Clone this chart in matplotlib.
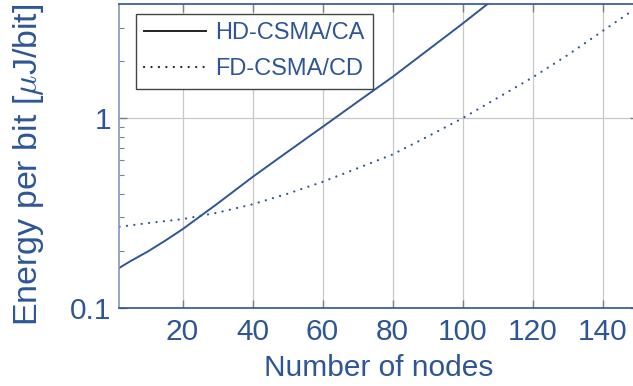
import matplotlib
matplotlib.use("Agg")
import matplotlib.pyplot as plt
from matplotlib.ticker import FixedLocator, NullFormatter

plt.rcParams["font.family"] = ["Liberation Sans", "DejaVu Sans"]
plt.rcParams["mathtext.fontset"] = "cm"

blue = "#2E5596"
grid_gray = "#c8c8c8"
tick_gray = "#808080"

# data
hd_nodes = [2, 5, 10, 15, 20, 30, 40, 50, 60, 70, 80, 90, 100, 110]
hd_energy = [0.163, 0.176, 0.198, 0.226, 0.26, 0.355, 0.49, 0.665, 0.90, 1.22, 1.65, 2.28, 3.15, 4.4]

fd_nodes = [2, 10, 20, 30, 40, 50, 60, 70, 80, 90, 100, 110, 120, 130, 140, 150]
fd_energy = [0.268, 0.28, 0.294, 0.318, 0.352, 0.40, 0.462, 0.545, 0.644, 0.80, 1.0, 1.28, 1.64, 2.15, 2.88, 3.85]

x_ticks = [20, 40, 60, 80, 100, 120, 140]

fig = plt.figure(figsize=(6.33, 3.86), dpi=100)
ax = fig.add_axes([119.5 / 633, 78 / 386, (637.5 - 119.5) / 633, 304 / 386])

ax.plot(hd_nodes, hd_energy, color=blue, lw=1.4, label="HD-CSMA/CA")
ax.plot(fd_nodes, fd_energy, color=blue, lw=1.6, dashes=(0.05, 3.3),
        dash_capstyle="round", label="FD-CSMA/CD")

ax.set_yscale("log")
ax.set_xlim(2, 150)
ax.set_ylim(0.1, 4)

ax.xaxis.set_major_locator(FixedLocator(x_ticks))
ax.yaxis.set_major_locator(FixedLocator([0.1, 1]))
ax.yaxis.set_minor_locator(FixedLocator([0.2, 0.3, 0.4, 0.5, 0.6, 0.7, 0.8, 0.9, 2, 3]))
ax.yaxis.set_minor_formatter(NullFormatter())
ax.set_yticklabels(["0.1", "1"])

ax.grid(True, which="major", color=grid_gray, lw=0.9)
ax.tick_params(which="both", direction="in", color=tick_gray, labelcolor=blue,
               labelsize=21.5, top=True, right=True)
ax.tick_params(which="major", length=6, width=1)
ax.tick_params(which="minor", length=3.5, width=0.8)
ax.tick_params(axis="x", pad=7)
ax.tick_params(axis="y", pad=6)

ax.spines["left"].set_color("#7f97c0")
ax.spines["bottom"].set_color(blue)
ax.spines["top"].set_color(blue)
ax.spines["right"].set_color(blue)
for s in ax.spines.values():
    s.set_linewidth(1.2)

ax.set_xlabel("Number of nodes", color=blue, fontsize=21.5, labelpad=6)
ax.set_ylabel(r"Energy per bit [$\mu$J/bit]", color=blue, fontsize=24.5)
ax.yaxis.set_label_coords(-0.141, 0.47)

leg = ax.legend(loc="upper left", bbox_to_anchor=(16.5 / 518, 1 - 10 / 304),
                fontsize=17, frameon=True, fancybox=False, framealpha=1,
                edgecolor="#444444", borderpad=0.35, handlelength=2.6,
                handletextpad=0.4, labelspacing=0.6, borderaxespad=0)
leg.get_frame().set_linewidth(1.0)
for h in leg.get_lines():
    h.set_color("#222222")
for t in leg.get_texts():
    t.set_color(blue)

fig.savefig("out.png", dpi=100)
